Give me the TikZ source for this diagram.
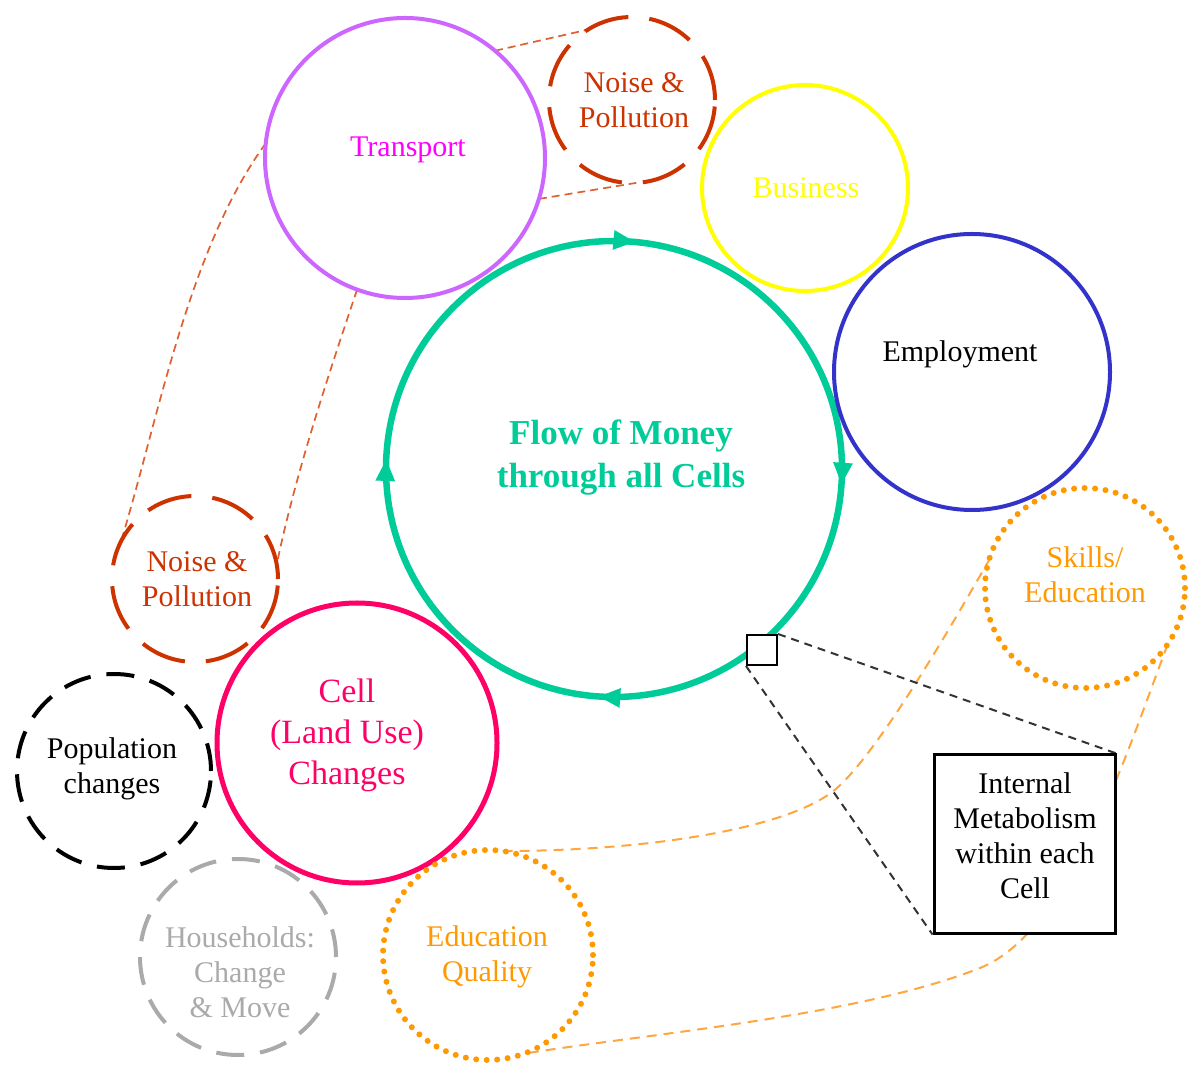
\documentclass[tikz,border=0pt]{standalone}
\usepackage{fontspec}
\setmainfont{Liberation Serif}
\usetikzlibrary{decorations.markings,arrows.meta}
\pgfdeclarelayer{background}
\pgfsetlayers{background,main}
\definecolor{mgreen}{RGB}{0,204,153}
\definecolor{tpurple}{RGB}{204,102,255}
\definecolor{tmag}{RGB}{255,0,255}
\definecolor{noisec}{RGB}{204,51,0}
\definecolor{bizy}{RGB}{255,255,0}
\definecolor{empb}{RGB}{51,51,204}
\definecolor{orng}{RGB}{255,153,0}
\definecolor{cellp}{RGB}{255,0,102}
\definecolor{hgray}{RGB}{170,170,170}
\definecolor{linkbrown}{RGB}{224,96,48}
\definecolor{linkorange}{RGB}{255,166,64}
\begin{document}
\begin{tikzpicture}[x=1pt,y=1pt,
  ring/.style={circle, inner sep=0pt, outer sep=0pt, minimum size=#1},
  solidring/.style={ring=#1, line width=4pt},
  dashring/.style={ring=#1, line width=4pt, dash pattern=on 46pt off 21pt},
  popring/.style={ring=#1, line width=4pt, dash pattern=on 28pt off 16pt},
  dotring/.style={ring=#1, line width=6pt, line cap=round, dash pattern=on 0pt off 10.5pt},
  txt/.style={align=center, inner sep=0pt, font=\fontsize{30}{35}\selectfont},
  brownlink/.style={draw=linkbrown, line width=1.7pt, dash pattern=on 8pt off 5pt},
  orangelink/.style={draw=linkorange, line width=2pt, dash pattern=on 10pt off 7pt},
  blacklink/.style={draw=black!80, line width=2pt, dash pattern=on 8pt off 6pt},
  flowring/.style={draw=mgreen, line width=6.5pt, postaction={decorate},
    decoration={markings,
      mark=at position 0.136 with {\arrow{Triangle[length=22pt,width=18pt]}},
      mark=at position 0.386 with {\arrow{Triangle[length=22pt,width=18pt]}},
      mark=at position 0.632 with {\arrow{Triangle[length=22pt,width=18pt]}},
      mark=at position 0.89 with {\arrow{Triangle[length=22pt,width=18pt]}}}}
]
\useasboundingbox (0,0) rectangle (1191,1066);

% circles
\node[solidring=280pt, draw=tpurple] (transport) at (405,908) {};
\node[dashring=166pt, draw=noisec] (noiseT) at (632,966) {};
\node[solidring=206pt, draw=bizy] (business) at (805,878) {};
\node[solidring=276pt, draw=empb] (employ) at (972,694) {};
\node[dotring=200pt, draw=orng] (skills) at (1085,478) {};
\node[dashring=166pt, draw=noisec] (noiseL) at (195,487) {};
\node[popring=194pt, draw=black] (popul) at (114,295) {};
\node[solidring=280pt, draw=cellp, line width=5pt] (cell) at (357,323) {};
\node[popring=196pt, draw=hgray] (house) at (238,109) {};
\node[dotring=210pt, draw=orng] (eduq) at (488,111) {};

% box and small square
\node[draw, fill=white, line width=3pt, minimum width=181pt, minimum height=178pt, inner sep=0pt] (box) at (1024.5,222) {};
\node[draw, fill=white, line width=2pt, minimum size=30pt, inner sep=0pt] (sq) at (762,416) {};

% labels
\node[txt, text=tmag] (transportT) at (408,916) {Transport};
\node[txt, text=noisec] (noiseTT) at (634,966) {Noise \&\\Pollution};
\node[txt, text=bizy] (businessT) at (806,878) {Business};
\node[txt] (employT) at (960,712) {Employment};
\node[txt, text=orng] (skillsT) at (1085,491) {Skills/\\Education};
\node[txt, text=noisec] (noiseLT) at (197,487) {Noise \&\\Pollution};
\node[txt] (populT) at (112,297) {Population\\changes};
\node[txt, text=cellp, font=\fontsize{34}{41}\selectfont] (cellT) at (347,331) {Cell\\(Land Use)\\Changes};
\node[txt, text=hgray] (houseT) at (240,94) {Households:\\Change\\\& Move};
\node[txt, text=orng] (eduqT) at (487,109) {Education\\Quality};
\node[txt, text=mgreen, font=\bfseries\fontsize{35}{43}\selectfont] (money) at (621,608) {Flow of Money\\through all Cells};
\node[txt] (boxT) at (1025,230) {Internal\\Metabolism\\within each\\Cell};

\coordinate (mc) at (614,597);
\coordinate (ja) at (837,278);
\coordinate (jb) at (980,98);

\begin{pgfonlayer}{background}
\fill[white] (0,0) rectangle (1191,1066);
\draw[flowring] (mc) ++(45:228) arc[start angle=45, end angle=-315, radius=228];
\draw[brownlink] (transport.50) -- (noiseT.122);
\draw[brownlink] (transport.-17) -- (noiseT.-87);
\draw[brownlink] (transport.174) .. controls +(-77,-105) and +(38,125) .. (noiseL.153);
\draw[brownlink] (transport.-110) .. controls +(-29,-86) and +(18,88) .. (noiseL.10);
\draw[orangelink] (eduq.82) .. controls +(147,0) and +(-45,-40) .. (ja)
  .. controls +(45,40) and +(-30,-52) .. (skills.164);
\draw[orangelink] (skills.-34) .. controls +(-36,-93) and +(93,37) .. (jb)
  .. controls +(-121,-48) and +(125,20) .. (eduq.-70);
\draw[blacklink] (sq.north east) -- (box.north east);
\draw[blacklink] (sq.south west) -- (box.south west);
\end{pgfonlayer}
\end{tikzpicture}
\end{document}
